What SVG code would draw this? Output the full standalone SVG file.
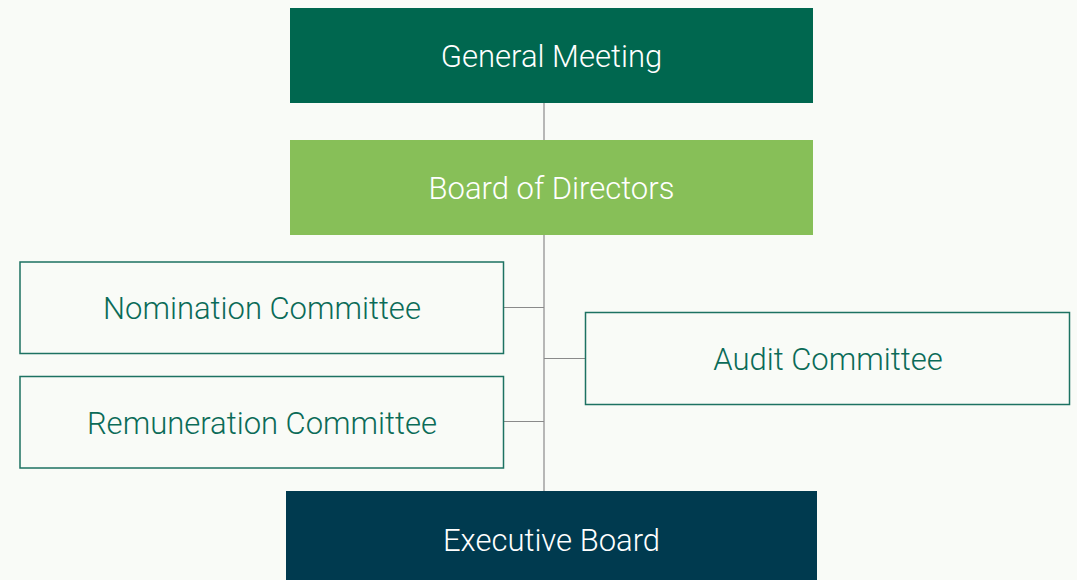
<svg xmlns="http://www.w3.org/2000/svg" width="1077" height="580" viewBox="0 0 1077 580">
  <style>
    .lbl { font-family: Roboto, "Liberation Sans", sans-serif; font-weight: 300; font-size: 31px; text-anchor: middle; dominant-baseline: central; }
    .light { fill: #ffffff; }
    .dark { fill: #0b6b58; }
    .outline { fill: #f9fbf7; stroke: #1d7262; stroke-width: 1.5; }
    .conn { stroke: #8a8a8a; stroke-width: 1.2; fill: none; }
  </style>
  <rect width="1077" height="580" fill="#f9fbf7"/>

  <g id="connectors">
    <line class="conn" x1="544" y1="103" x2="544" y2="491"/>
    <line class="conn" x1="504" y1="307.5" x2="544" y2="307.5"/>
    <line class="conn" x1="504" y1="421.5" x2="544" y2="421.5"/>
    <line class="conn" x1="544" y1="358.5" x2="585" y2="358.5"/>
  </g>

  <g id="general-meeting">
    <rect x="290" y="8" width="523" height="95" fill="#00674f"/>
    <text class="lbl light" x="551.5" y="56">General Meeting</text>
  </g>

  <g id="board-of-directors">
    <rect x="290" y="140" width="523" height="95" fill="#87bf58"/>
    <text class="lbl light" x="551.5" y="188">Board of Directors</text>
  </g>

  <g id="nomination-committee">
    <rect class="outline" x="20" y="262" width="483.5" height="91.5"/>
    <text class="lbl dark" x="262" y="308">Nomination Committee</text>
  </g>

  <g id="remuneration-committee">
    <rect class="outline" x="20" y="376.5" width="483.5" height="91.5"/>
    <text class="lbl dark" x="262" y="423">Remuneration Committee</text>
  </g>

  <g id="audit-committee">
    <rect class="outline" x="585.5" y="312.5" width="484" height="92"/>
    <text class="lbl dark" x="828" y="359">Audit Committee</text>
  </g>

  <g id="executive-board">
    <rect x="286" y="491" width="531" height="95" fill="#003a4f"/>
    <text class="lbl light" x="551.5" y="540">Executive Board</text>
  </g>
</svg>
